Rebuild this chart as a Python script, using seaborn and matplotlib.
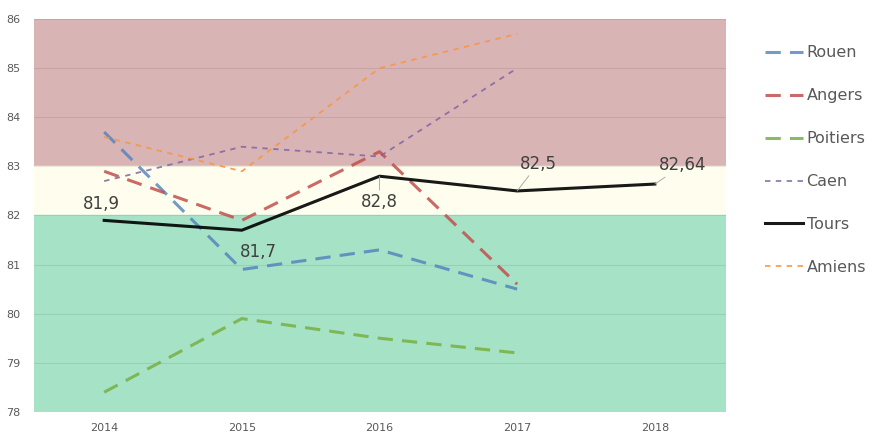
import pandas as pd
import matplotlib.pyplot as plt
import seaborn as sns

# valeurs
annees = [2014, 2015, 2016, 2017, 2018]
rouen = [83.7, 80.9, 81.3, 80.5]
angers = [82.9, 81.9, 83.3, 80.6]
poitiers = [78.4, 79.9, 79.5, 79.2]
caen = [82.7, 83.4, 83.2, 85.0]
tours = [81.9, 81.7, 82.8, 82.5, 82.64]
amiens = [83.6, 82.9, 85.0, 85.7]
etiquettes_tours = ["81,9", "81,7", "82,8", "82,5", "82,64"]

series = {
    'Rouen': rouen,
    'Angers': angers,
    'Poitiers': poitiers,
    'Caen': caen,
    'Tours': tours,
    'Amiens': amiens,
}

styles = {
    'Rouen': dict(color="#4f81bd", ls=(0, (5, 3)), lw=2.2, alpha=0.8),
    'Angers': dict(color="#c0504d", ls=(0, (5, 3)), lw=2.2, alpha=0.85),
    'Poitiers': dict(color="#77b043", ls=(0, (5, 3)), lw=2.2, alpha=0.85),
    'Caen': dict(color="#8064a2", ls=(0, (3, 3)), lw=1.3, alpha=0.85),
    'Tours': dict(color="black", ls="-", lw=2.2, alpha=0.9),
    'Amiens': dict(color="#f79646", ls=(0, (3, 3)), lw=1.3, alpha=0.9),
}

fig = plt.figure(figsize=(8.71, 4.34), dpi=100)
ax = fig.add_axes([0.039, 0.051, 0.795, 0.905])

# zones de fond
ax.axhspan(83, 86, color="#d9b4b5", zorder=0)
ax.axhspan(82, 83, color="#fffded", zorder=0)
ax.axhspan(78, 82, color="#a6e2c6", zorder=0)

for nom, valeurs in series.items():
    df = pd.DataFrame({'annee': annees[:len(valeurs)], 'valeur': valeurs})
    st = styles[nom]
    sns.lineplot(data=df, x='annee', y='valeur', ax=ax, color=st['color'],
                 linestyle=st['ls'], linewidth=st['lw'], alpha=st['alpha'],
                 label=nom, zorder=3)

# étiquettes de Tours
pos = [(-2, 5), (12, -9), (0, -12), (15, 13), (20, 7)]
for i, (x, y) in enumerate(zip(annees, tours)):
    dx, dy = pos[i]
    fleche = None
    if i >= 2:
        fleche = dict(arrowstyle="-", color="#a0a0a0", lw=0.6, shrinkA=0, shrinkB=0)
    ax.annotate(etiquettes_tours[i], (x, y), xytext=(dx, dy), textcoords="offset points",
                ha="center", va="bottom" if dy > 0 else "top", fontsize=12, color="#404040",
                arrowprops=fleche)

ax.set_xlim(2013.49, 2018.52)
ax.set_ylim(78, 86)
ax.set_xticks(annees)
ax.set_yticks(range(78, 87))
ax.grid(axis='y', color="#000000", alpha=0.08, lw=0.8, zorder=1)
ax.set_axisbelow(True)
for s in ax.spines.values():
    s.set_visible(False)
ax.tick_params(length=0, labelsize=8, colors="#595959", pad=8)
ax.tick_params(axis='y', pad=10)
ax.set_xlabel("")
ax.set_ylabel("")

ax.legend(loc="upper left", bbox_to_anchor=(1.035, 0.97), frameon=False, fontsize=11.5,
          labelspacing=1.75, handlelength=2.4, handletextpad=0.2, labelcolor="#595959")

plt.savefig("out.png", dpi=100)
